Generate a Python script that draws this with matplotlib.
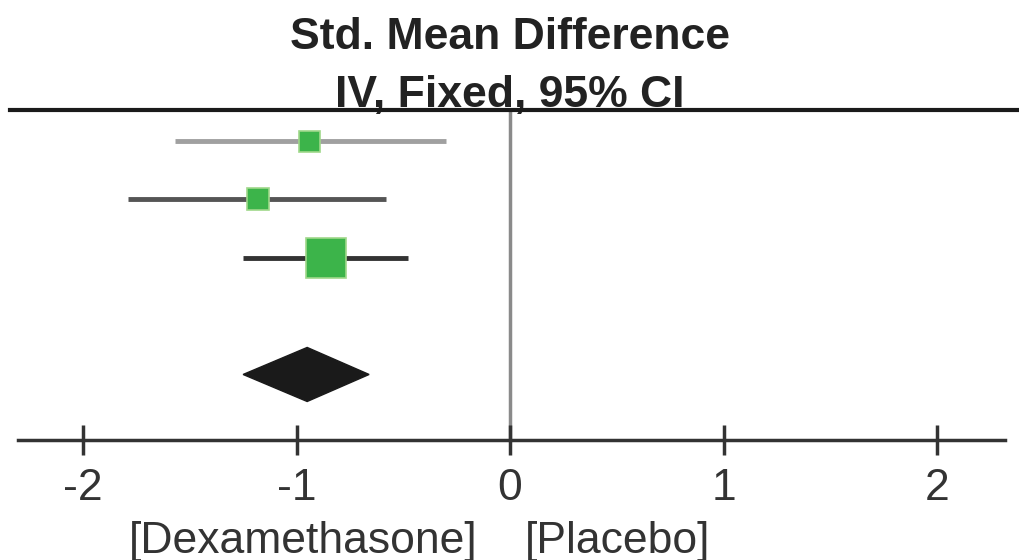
import matplotlib.pyplot as plt
from matplotlib.patches import Polygon

plt.rcParams['font.family'] = ['Liberation Sans', 'DejaVu Sans']

# study rows: estimate and 95% CI (std. mean difference)
est = [-0.94, -1.18, -0.86]
lo = [-1.57, -1.79, -1.25]
hi = [-0.30, -0.58, -0.48]
box_px = [21, 23, 40]  # square size, pixels
line_col = ['#a0a0a0', '#555555', '#333333']
rows = [0, 1, 2]

# pooled result
pool_est = -0.95
pool_lo = -1.25
pool_hi = -0.66
pool_row = 4

ticks = [-2, -1, 0, 1, 2]
tick_labels = ['-2', '-1', '0', '1', '2']

fig = plt.figure(figsize=(10.19, 5.6), dpi=100)
ax = fig.add_axes([0, 0, 1, 1])
# 213.5 px per unit, zero at px 510; 58.3 px per row, row 0 at px 141
ax.set_xlim(-510 / 213.5, 509 / 213.5)
ax.set_ylim(7.18, -141 / 58.3)

for r, e, l, h, s, c in zip(rows, est, lo, hi, box_px, line_col):
    ax.plot([l, h], [r, r], color=c, lw=3.5, solid_capstyle='butt', zorder=2)
    ax.plot(e, r, marker='s', ms=s * 0.72, color='#3cb44a',
            mec='#9fd88a', mew=1.2, zorder=3)

d = 27 / 58.3
ax.add_patch(Polygon([[pool_lo, pool_row], [pool_est, pool_row - d],
                      [pool_hi, pool_row], [pool_est, pool_row + d]],
                     closed=True, color='#1a1a1a', zorder=3))

axis_y = 5.12
top_y = -0.53
ax.plot([0, 0], [top_y, axis_y], color='#8a8a8a', lw=2.5, zorder=1)
ax.plot([-500 / 213.5, 509 / 213.5], [top_y, top_y], color='#1a1a1a', lw=3, zorder=4)

# bottom axis
for s in ['top', 'left', 'right']:
    ax.spines[s].set_visible(False)
ax.spines['bottom'].set_position(('data', axis_y))
ax.spines['bottom'].set_bounds(-492 / 213.5, 495 / 213.5)
ax.spines['bottom'].set_linewidth(2.5)
ax.spines['bottom'].set_color('#333333')
ax.set_xticks(ticks)
ax.set_xticklabels(tick_labels, fontsize=32, color='#333333')
ax.tick_params(axis='x', direction='inout', length=22, width=2.5,
               color='#333333', pad=9)
ax.set_yticks([])
ax.patch.set_alpha(0)

ax.text(0, -1.77, 'Std. Mean Difference', ha='center', va='center',
        fontsize=32, fontweight='bold', color='#222222')
ax.text(0, -0.78, 'IV, Fixed, 95% CI', ha='center', va='center',
        fontsize=32, fontweight='bold', color='#222222')
ax.text(-0.97, 6.86, '[Dexamethasone]', ha='center', va='center',
        fontsize=32, color='#333333')
ax.text(0.505, 6.86, '[Placebo]', ha='center', va='center',
        fontsize=32, color='#333333')

fig.savefig('out.png', dpi=100)
